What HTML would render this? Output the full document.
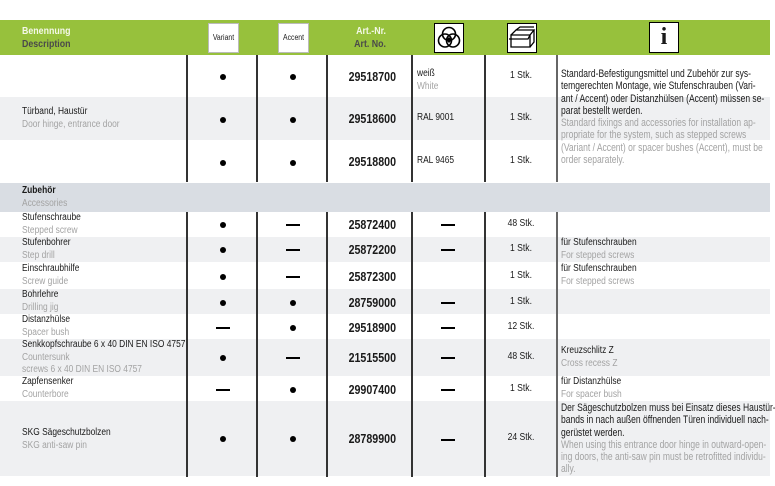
<!DOCTYPE html>
<html><head><meta charset="utf-8"><style>
*{margin:0;padding:0;box-sizing:border-box}
body{width:775px;height:486px;background:#fff;position:relative;overflow:hidden;font-family:"Liberation Sans Narrow","Liberation Sans",sans-serif;font-size:10px;color:#1a1a1a}
.a{position:absolute;transform:scaleX(.84);transform-origin:left top;white-space:nowrap}
.p{font-size:11px;transform:scaleX(.775);line-height:12.3px}
.r{position:absolute;left:0;width:770px}
.g{color:#a3a3a3}
.vl{position:absolute;width:2px;background:#333;top:55px;height:127px}
.vl2{position:absolute;width:2px;background:#333;top:212px;height:265px}
.c{position:absolute;text-align:center;transform:scaleX(.86)}
.dot{position:absolute;width:6px;height:6px;border-radius:50%;background:#000}
.dash{position:absolute;width:14px;height:1.5px;background:#000}
.nr{position:absolute;width:80px;text-align:right;font-weight:bold;font-size:13px;left:316px;transform:scaleX(0.82);transform-origin:right}
.t{line-height:12.5px}
.hb{position:absolute;background:#fff;border:1px solid #bbb;top:23px;height:30px}
</style></head><body>
<div class="r" style="top:20px;height:35px;background:#97c13c"></div>
<div class="a" style="left:22px;top:25px;font-weight:bold;line-height:12.5px;font-size:10.5px"><span style="color:#f4f8e8">Benennung</span><br><span style="color:#4a4a4a">Description</span></div>
<div class="hb" style="left:208px;width:31px"></div><div class="c" style="left:208px;width:31px;top:33px;font-size:8px;font-family:'Liberation Sans',sans-serif">Variant</div>
<div class="hb" style="left:278px;width:31px"></div><div class="c" style="left:278px;width:31px;top:33px;font-size:8px;font-family:'Liberation Sans',sans-serif">Accent</div>
<div class="a" style="left:330px;width:56px;top:25px;font-weight:bold;text-align:right;line-height:12.5px;font-size:10.5px;transform-origin:right top"><span style="color:#f4f8e8">Art.-Nr.</span><br><span style="color:#4a4a4a">Art. No.</span></div>
<div class="hb" style="left:434px;width:30px;border-color:#000"></div>
<svg style="position:absolute;left:436px;top:25px" width="26" height="26" viewBox="0 0 26 26"><g fill="none" stroke="#000" stroke-width="1.6"><circle cx="13" cy="9" r="6.5"/><circle cx="9" cy="15.5" r="6.5"/><circle cx="17" cy="15.5" r="6.5"/></g><path d="M13 12 L10 15 L13 18 L16 15Z" fill="#000"/></svg>
<div class="hb" style="left:507px;width:30px;border-color:#000"></div>
<svg style="position:absolute;left:508px;top:26px" width="28" height="24" viewBox="0 0 28 24"><g fill="none" stroke="#000" stroke-width="1.3"><path d="M3 9 H22 V21 H3Z"/><path d="M3 9 L8 4 H26 L22 9"/><path d="M22 21 L26 16 V4"/><path d="M1 13 H20 L22 9"/><path d="M8 4 L12 1 H26"/></g></svg>
<div class="hb" style="left:649px;width:30px;border-color:#000;top:22px;height:31px"></div>
<div style="position:absolute;left:649px;width:30px;top:22px;font-family:'Liberation Serif',serif;font-weight:bold;font-size:24px;text-align:center;line-height:30px">i</div>

<div class="r" style="top:97px;height:43px;background:#eff0f2"></div>
<div class="vl" style="left:186px"></div><div class="vl" style="left:256px"></div><div class="vl" style="left:326px"></div><div class="vl" style="left:411px"></div><div class="vl" style="left:484px"></div><div class="vl" style="left:556px;background:#666"></div>
<div class="a t" style="left:22px;top:106px"><span>Türband, Haustür</span><br><span class="g">Door hinge, entrance door</span></div>
<div class="dot" style="left:220px;top:74px"></div><div class="dot" style="left:290px;top:74px"></div><div class="nr" style="top:69px">29518700</div>
<div class="dot" style="left:220px;top:117px"></div><div class="dot" style="left:290px;top:117px"></div><div class="nr" style="top:111px">29518600</div>
<div class="dot" style="left:220px;top:160px"></div><div class="dot" style="left:290px;top:160px"></div><div class="nr" style="top:154px">29518800</div>
<div class="a t" style="left:417px;top:68px">weiß<br><span class="g">White</span></div>
<div class="a" style="left:417px;top:112px">RAL 9001</div>
<div class="a" style="left:417px;top:155px">RAL 9465</div>
<div class="c" style="left:486px;width:70px;top:70px">1 Stk.</div>
<div class="c" style="left:486px;width:70px;top:112px">1 Stk.</div>
<div class="c" style="left:486px;width:70px;top:155px">1 Stk.</div>
<div class="a p" style="left:561px;top:68px">Standard-Befestigungsmittel und Zubehör zur sys-<br>temgerechten Montage, wie Stufenschrauben (Vari-<br>ant / Accent) oder Distanzhülsen (Accent) müssen se-<br>parat bestellt werden.<br><span class="g">Standard fixings and accessories for installation ap-<br>propriate for the system, such as stepped screws<br>(Variant / Accent) or spacer bushes (Accent), must be<br>order separately.</span></div>

<div class="r" style="top:183px;height:29px;background:#d9dde3"></div>
<div class="a t" style="left:22px;top:185px;font-weight:bold">Zubehör<br><span class="g" style="font-weight:normal">Accessories</span></div>

<div class="r" style="top:237px;height:25px;background:#eff0f2"></div>
<div class="r" style="top:289px;height:25px;background:#eff0f2"></div>
<div class="r" style="top:339px;height:37px;background:#eff0f2"></div>
<div class="r" style="top:401px;height:75px;background:#eff0f2"></div>
<div class="vl2" style="left:186px"></div><div class="vl2" style="left:256px"></div><div class="vl2" style="left:326px"></div><div class="vl2" style="left:411px"></div><div class="vl2" style="left:484px"></div><div class="vl2" style="left:556px;background:#666"></div>

<div class="a t" style="left:22px;top:212px">Stufenschraube<br><span class="g">Stepped screw</span></div>
<div class="dot" style="left:220px;top:222px"></div><div class="dash" style="left:286px;top:224px"></div><div class="nr" style="top:217px">25872400</div><div class="dash" style="left:441px;top:224px"></div><div class="c" style="left:486px;width:70px;top:218px">48 Stk.</div>

<div class="a t" style="left:22px;top:237px">Stufenbohrer<br><span class="g">Step drill</span></div>
<div class="dot" style="left:220px;top:247px"></div><div class="dash" style="left:286px;top:249px"></div><div class="nr" style="top:242px">25872200</div><div class="dash" style="left:441px;top:249px"></div><div class="c" style="left:486px;width:70px;top:243px">1 Stk.</div>
<div class="a t" style="left:561px;top:237px">für Stufenschrauben<br><span class="g">For stepped screws</span></div>

<div class="a t" style="left:22px;top:263px">Einschraubhilfe<br><span class="g">Screw guide</span></div>
<div class="dot" style="left:220px;top:274px"></div><div class="dash" style="left:286px;top:276px"></div><div class="nr" style="top:269px">25872300</div><div class="c" style="left:486px;width:70px;top:270px">1 Stk.</div>
<div class="a t" style="left:561px;top:263px">für Stufenschrauben<br><span class="g">For stepped screws</span></div>

<div class="a t" style="left:22px;top:289px">Bohrlehre<br><span class="g">Drilling jig</span></div>
<div class="dot" style="left:220px;top:300px"></div><div class="dot" style="left:290px;top:300px"></div><div class="nr" style="top:295px">28759000</div><div class="dash" style="left:441px;top:302px"></div><div class="c" style="left:486px;width:70px;top:296px">1 Stk.</div>

<div class="a t" style="left:22px;top:314px">Distanzhülse<br><span class="g">Spacer bush</span></div>
<div class="dash" style="left:216px;top:327px"></div><div class="dot" style="left:290px;top:325px"></div><div class="nr" style="top:320px">29518900</div><div class="dash" style="left:441px;top:327px"></div><div class="c" style="left:486px;width:70px;top:321px">12 Stk.</div>

<div class="a t" style="left:22px;top:339px">Senkkopfschraube 6 x 40 DIN EN ISO 4757<br><span class="g">Countersunk<br>screws 6 x 40 DIN EN ISO 4757</span></div>
<div class="dot" style="left:220px;top:355px"></div><div class="dash" style="left:286px;top:357px"></div><div class="nr" style="top:350px">21515500</div><div class="dash" style="left:441px;top:357px"></div><div class="c" style="left:486px;width:70px;top:351px">48 Stk.</div>
<div class="a t" style="left:561px;top:345px">Kreuzschlitz Z<br><span class="g">Cross recess Z</span></div>

<div class="a t" style="left:22px;top:376px">Zapfensenker<br><span class="g">Counterbore</span></div>
<div class="dash" style="left:216px;top:389px"></div><div class="dot" style="left:290px;top:387px"></div><div class="nr" style="top:382px">29907400</div><div class="dash" style="left:441px;top:389px"></div><div class="c" style="left:486px;width:70px;top:383px">1 Stk.</div>
<div class="a t" style="left:561px;top:376px">für Distanzhülse<br><span class="g">For spacer bush</span></div>

<div class="a t" style="left:22px;top:427px">SKG Sägeschutzbolzen<br><span class="g">SKG anti-saw pin</span></div>
<div class="dot" style="left:220px;top:436px"></div><div class="dot" style="left:290px;top:436px"></div><div class="nr" style="top:431px">28789900</div><div class="dash" style="left:441px;top:439px"></div><div class="c" style="left:486px;width:70px;top:432px">24 Stk.</div>
<div class="a p" style="left:561px;top:402px">Der Sägeschutzbolzen muss bei Einsatz dieses Haustür-<br>bands in nach außen öffnenden Türen individuell nach-<br>gerüstet werden.<br><span class="g">When using this entrance door hinge in outward-open-<br>ing doors, the anti-saw pin must be retrofitted individu-<br>ally.</span></div>
</body></html>
